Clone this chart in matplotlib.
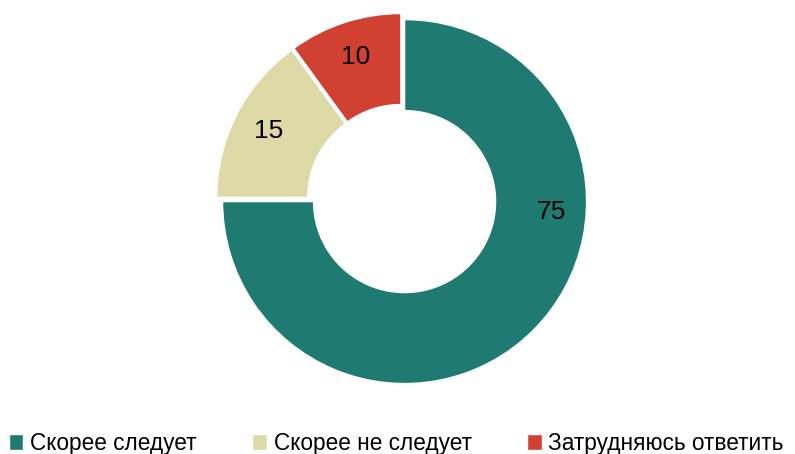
import numpy as np
import matplotlib.pyplot as plt

# данные
labels = ["Скорее следует", "Скорее не следует", "Затрудняюсь ответить"]
values = [75, 15, 10]
colors = ["#1F7A72", "#DEDAA8", "#D14131"]

plt.rcParams['font.family'] = ['Liberation Sans', 'DejaVu Sans']

fig = plt.figure(figsize=(7.95, 4.54), dpi=100)
ax = fig.add_axes([0.0, 0.0, 1.0, 1.0])

wedges, texts, autotexts = ax.pie(
    values, colors=colors, startangle=90, counterclock=False,
    explode=[0.02, 0.02, 0.02], radius=1.0,
    wedgeprops=dict(width=0.5, edgecolor="white", linewidth=1.0),
    autopct=lambda p: f"{p:.0f}", pctdistance=0.8,
    textprops=dict(fontsize=19, color="black"),
)

# метка 75 чуть ниже горизонтали
ang = np.deg2rad(-4)
autotexts[0].set_position((0.81 * np.cos(ang) + 0.014, 0.81 * np.sin(ang) - 0.014))

# масштаб: радиус ~182 px, центр ~ (402, 199)
ax.set_xlim(-402 / 182, (795 - 402) / 182)
ax.set_ylim(-(454 - 199) / 182, 199 / 182)
ax.set_aspect('equal')
ax.axis('off')

leg = fig.legend(wedges, labels, loc='lower left', bbox_to_anchor=(0.011, -0.002, 0.975, 0.06),
                 mode='expand', ncol=3, frameon=False, fontsize=16.3,
                 handlelength=0.65, handleheight=0.65, handletextpad=0.3,
                 borderaxespad=0.0, borderpad=0.0)

fig.savefig("out.png", dpi=100)
